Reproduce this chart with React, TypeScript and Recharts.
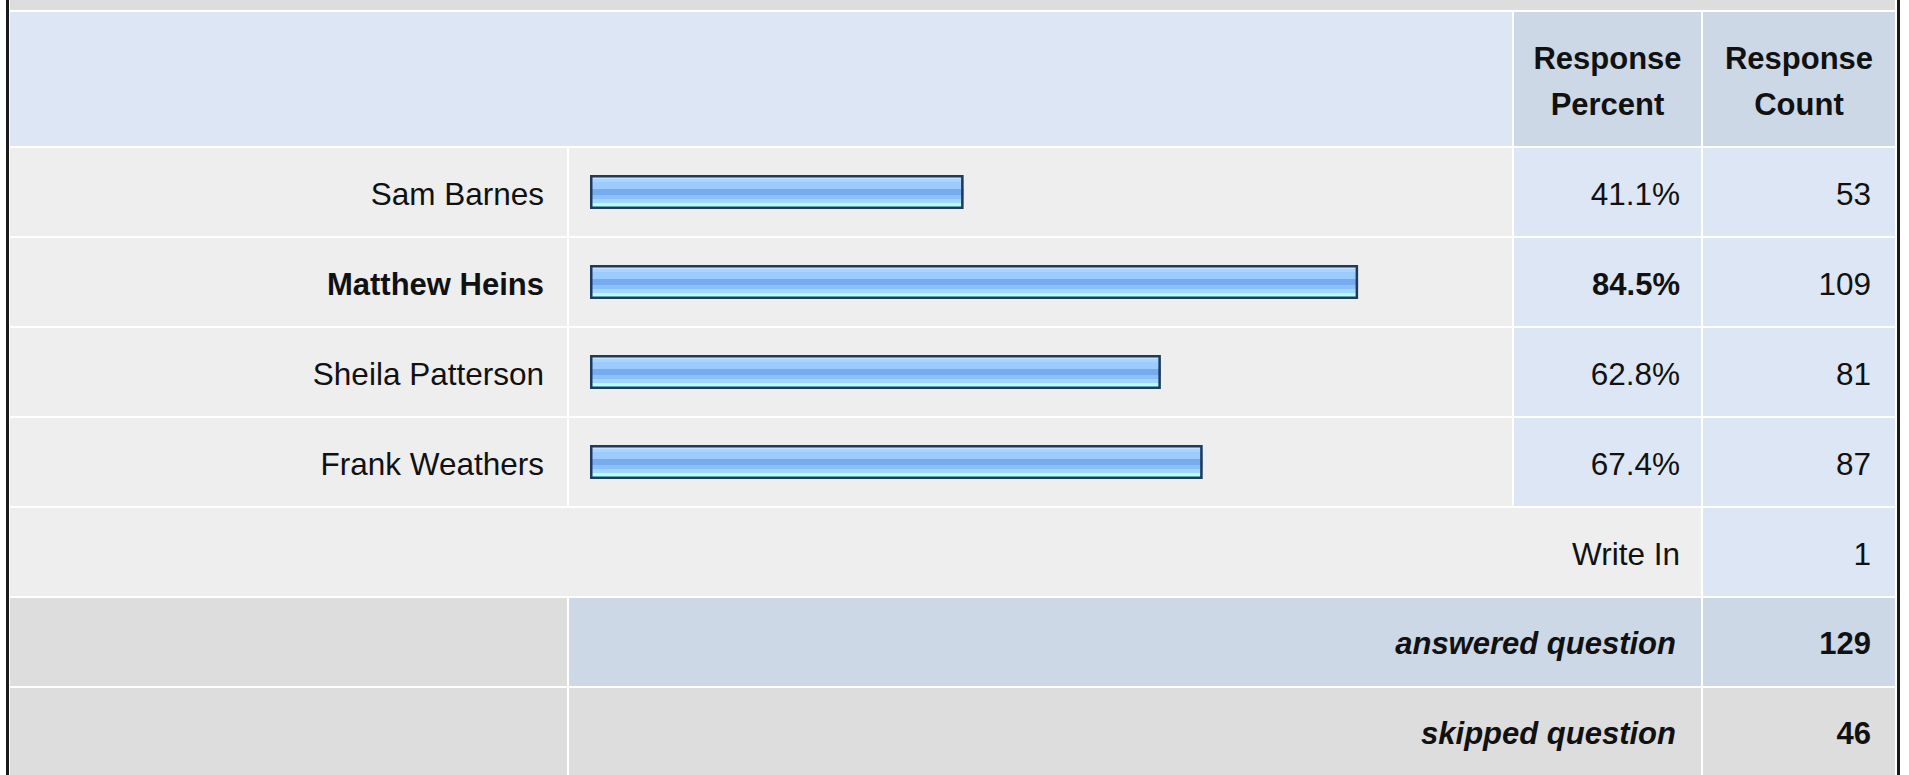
import { Bar, BarChart, LabelList, XAxis, YAxis } from "recharts";

const candidates = ["Sam Barnes", "Matthew Heins", "Sheila Patterson", "Frank Weathers"];
const percents = [41.1, 84.5, 62.8, 67.4];
const counts = [53, 109, 81, 87];
const headerPercent = ["Response", "Percent"];
const headerCount = ["Response", "Count"];
const writeInLabel = "Write In";
const writeInCount = 1;
const answeredLabel = "answered question";
const answeredCount = 129;
const skippedLabel = "skipped question";
const skippedCount = 46;

const FONT = '"Liberation Sans", Arial, Helvetica, sans-serif';
const FS = 31.5;
const FS_BOLD = 31;
const INK = "#111";
const LIGHT_BLUE = "#DCE6F4";
const GREY_BLUE = "#CCD8E6";
const ROW_GREY = "#EEEEEE";
const DARK_GREY = "#DDDDDD";

// column edges
const C0 = 10;
const C1 = 569;
const C2 = 1514;
const C3 = 1703;
const CEND = 1895;
const rowTop = (i: number) => 148 + 90 * i;
const ROW_H = 88;

const data = candidates.map((name, i) => ({ name, pct: percents[i], count: counts[i] }));
const topPct = Math.max(...percents);

function Box({ x, y, w, h, bg }: { x: number; y: number; w: number; h: number; bg: string }) {
  return <div style={{ position: "absolute", left: x, top: y, width: w, height: h, background: bg }} />;
}

function RightText({ right, top, h, text, bold, italic }: { right: number; top: number; h: number; text: string | number; bold?: boolean; italic?: boolean }) {
  return (
    <div
      style={{
        position: "absolute",
        left: 0,
        width: right,
        top: top + 2,
        height: h,
        lineHeight: `${h}px`,
        textAlign: "right",
        whiteSpace: "nowrap",
        fontFamily: FONT,
        fontSize: bold ? FS_BOLD : FS,
        fontWeight: bold ? 700 : 400,
        fontStyle: italic ? "italic" : "normal",
        color: INK,
      }}
    >
      {text}
    </div>
  );
}

function HeaderText({ x, w, lines }: { x: number; w: number; lines: string[] }) {
  return (
    <div
      style={{
        position: "absolute",
        left: x,
        width: w,
        top: 36,
        textAlign: "center",
        fontFamily: FONT,
        fontSize: FS_BOLD,
        fontWeight: 700,
        lineHeight: "46px",
        color: INK,
      }}
    >
      {lines.map((l) => (
        <div key={l}>{l}</div>
      ))}
    </div>
  );
}

const GlossyBar = (props: any) => {
  const { x, y, width, height } = props;
  if (!width || width <= 0) return null;
  return (
    <g>
      <rect x={x} y={y} width={width} height={height} fill="url(#barGloss)" />
      <rect x={x + 1.25} y={y + 1.25} width={width - 2.5} height={height - 2.5} fill="none" stroke="#1E3A5C" strokeWidth={2.5} />
    </g>
  );
};

const NameTick = (props: any) => {
  const { x, y, payload } = props;
  const i = candidates.indexOf(payload.value);
  const bold = percents[i] === topPct;
  const fs = bold ? FS_BOLD : FS;
  return (
    <text x={x} y={y + fs * 0.358 + 2} textAnchor="end" fontFamily={FONT} fontSize={fs} fontWeight={bold ? 700 : 400} fill={INK}>
      {payload.value}
    </text>
  );
};

const makeValueLabel = (right: number, kind: "pct" | "count") => (props: any) => {
  const { y, height, value, index } = props;
  const bold = kind === "pct" && percents[index] === topPct;
  const fs = bold ? FS_BOLD : FS;
  const txt = kind === "pct" ? `${Number(value).toFixed(1)}%` : String(value);
  return (
    <text x={right} y={y + height / 2 + fs * 0.358 + 2} textAnchor="end" fontFamily={FONT} fontSize={fs} fontWeight={bold ? 700 : 400} fill={INK}>
      {txt}
    </text>
  );
};

export default function App() {
  return (
    <div style={{ position: "fixed", left: 0, top: 0, width: 1909, height: 775, background: "#fff", overflow: "hidden" }}>
      {/* outer borders */}
      <Box x={6} y={0} w={3} h={775} bg="#1a1a1a" />
      <Box x={1897} y={0} w={3} h={775} bg="#1a1a1a" />
      {/* top strip */}
      <Box x={C0} y={0} w={CEND - C0} h={10} bg={DARK_GREY} />
      {/* header */}
      <Box x={C0} y={12} w={C2 - 2 - C0} h={134} bg={LIGHT_BLUE} />
      <Box x={C2} y={12} w={C3 - 2 - C2} h={134} bg={GREY_BLUE} />
      <Box x={C3} y={12} w={CEND - C3} h={134} bg={GREY_BLUE} />
      <HeaderText x={C2} w={C3 - 2 - C2} lines={headerPercent} />
      <HeaderText x={C3} w={CEND - C3} lines={headerCount} />
      {/* data rows */}
      {candidates.map((c, i) => (
        <div key={c}>
          <Box x={C0} y={rowTop(i)} w={C1 - 2 - C0} h={ROW_H} bg={ROW_GREY} />
          <Box x={C1} y={rowTop(i)} w={C2 - 2 - C1} h={ROW_H} bg={ROW_GREY} />
          <Box x={C2} y={rowTop(i)} w={C3 - 2 - C2} h={ROW_H} bg={LIGHT_BLUE} />
          <Box x={C3} y={rowTop(i)} w={CEND - C3} h={ROW_H} bg={LIGHT_BLUE} />
        </div>
      ))}
      {/* write in */}
      <Box x={C0} y={rowTop(4)} w={C3 - 2 - C0} h={ROW_H} bg={ROW_GREY} />
      <Box x={C3} y={rowTop(4)} w={CEND - C3} h={ROW_H} bg={LIGHT_BLUE} />
      <RightText right={1680} top={rowTop(4)} h={ROW_H} text={writeInLabel} />
      <RightText right={1871} top={rowTop(4)} h={ROW_H} text={writeInCount} />
      {/* answered */}
      <Box x={C0} y={rowTop(5)} w={C1 - 2 - C0} h={ROW_H} bg={DARK_GREY} />
      <Box x={C1} y={rowTop(5)} w={C3 - 2 - C1} h={ROW_H} bg={GREY_BLUE} />
      <Box x={C3} y={rowTop(5)} w={CEND - C3} h={ROW_H} bg={GREY_BLUE} />
      <RightText right={1676} top={rowTop(5)} h={ROW_H} text={answeredLabel} bold italic />
      <RightText right={1871} top={rowTop(5)} h={ROW_H} text={answeredCount} bold />
      {/* skipped */}
      <Box x={C0} y={rowTop(6)} w={C1 - 2 - C0} h={ROW_H} bg={DARK_GREY} />
      <Box x={C1} y={rowTop(6)} w={C3 - 2 - C1} h={ROW_H} bg={DARK_GREY} />
      <Box x={C3} y={rowTop(6)} w={CEND - C3} h={ROW_H} bg={DARK_GREY} />
      <RightText right={1676} top={rowTop(6)} h={ROW_H} text={skippedLabel} bold italic />
      <RightText right={1871} top={rowTop(6)} h={ROW_H} text={skippedCount} bold />

      {/* chart */}
      <div style={{ position: "absolute", left: 0, top: 147 }}>
        <BarChart width={1909} height={360} data={data} layout="vertical" margin={{ top: 0, right: 410, bottom: 0, left: 0 }}>
          <defs>
            <linearGradient id="barGloss" x1="0" y1="0" x2="0" y2="1">
              <stop offset="0" stopColor="#C6E2FF" />
              <stop offset="0.13" stopColor="#C6E2FF" />
              <stop offset="0.13" stopColor="#A8D4FF" />
              <stop offset="0.22" stopColor="#A8D4FF" />
              <stop offset="0.22" stopColor="#9BCBFF" />
              <stop offset="0.41" stopColor="#9BCBFF" />
              <stop offset="0.41" stopColor="#76ABF0" />
              <stop offset="0.58" stopColor="#76ABF0" />
              <stop offset="0.58" stopColor="#8CC1F8" />
              <stop offset="0.71" stopColor="#8CC1F8" />
              <stop offset="0.71" stopColor="#A3D6FF" />
              <stop offset="0.81" stopColor="#A3D6FF" />
              <stop offset="0.81" stopColor="#B2FFFF" />
              <stop offset="1" stopColor="#B2FFFF" />
            </linearGradient>
          </defs>
          <XAxis type="number" domain={[0, 100]} hide />
          <YAxis
            type="category"
            dataKey="name"
            width={590}
            axisLine={false}
            tickLine={false}
            tickSize={0}
            tickMargin={46}
            tick={NameTick}
            interval={0}
          />
          <Bar dataKey="pct" barSize={34} shape={GlossyBar} isAnimationActive={false}>
            <LabelList dataKey="pct" content={makeValueLabel(1680, "pct")} />
            <LabelList dataKey="count" content={makeValueLabel(1871, "count")} />
          </Bar>
        </BarChart>
      </div>
    </div>
  );
}
